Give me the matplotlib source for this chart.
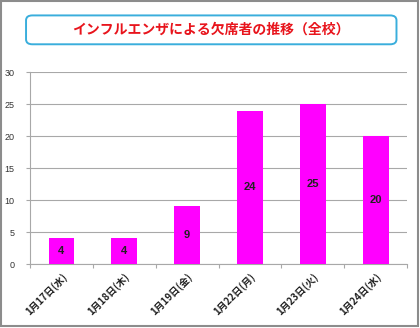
# -*- coding: utf-8 -*-
import numpy as np
import matplotlib
matplotlib.use('Agg')
import matplotlib.pyplot as plt
from matplotlib.patches import FancyBboxPatch, Rectangle

plt.rcParams['font.family'] = ['Noto Sans CJK JP', 'DejaVu Sans']

# absentees per day
days = ['1月17日(水)', '1月18日(木)', '1月19日(金)',
        '1月22日(月)', '1月23日(火)', '1月24日(水)']
absent = [4, 4, 9, 24, 25, 20]
yticks = [0, 5, 10, 15, 20, 25, 30]

title = 'インフルエンザによる欠席者の推移（全校）'

barcolor = '#FF00FF'
gridcolor = '#A8A8A8'

fig = plt.figure(figsize=(4.2, 3.28), dpi=100)

# outer frame
fig.patches.append(Rectangle((0.002, 0.006), 0.993, 0.99, transform=fig.transFigure,
                             fill=False, edgecolor='#8C8C8C', linewidth=1.5))

# title box
fig.patches.append(FancyBboxPatch((0.062, 0.865), 0.882, 0.088,
                                  boxstyle='round,pad=0,rounding_size=0.015',
                                  transform=fig.transFigure, facecolor='white',
                                  edgecolor='#3AAEDC', linewidth=1.4))
fig.text(0.503, 0.909, title, ha='center', va='center', color='#E8141C',
         fontsize=10, fontweight='bold')

ax = fig.add_axes([0.0714, 0.195, 0.898, 0.585])
x = np.arange(len(days))
bars = ax.bar(x, absent, width=0.41, color=barcolor, zorder=3)
for b, v in zip(bars, absent):
    ax.text(b.get_x() + b.get_width() / 2, v / 2, str(v), ha='center', va='center',
            fontsize=8, fontweight='bold', color='#222222',
            family=['Liberation Sans', 'DejaVu Sans'], zorder=4)

ax.set_xlim(-0.5, len(days) - 0.5)
ax.set_ylim(0, 30)
ax.set_yticks(yticks)
ax.yaxis.grid(True, color=gridcolor, linewidth=0.8, zorder=0)
ax.tick_params(axis='y', length=3, color=gridcolor, labelsize=6.5, labelcolor='#333333', pad=8)
for lab in ax.get_yticklabels():
    lab.set_family(['Liberation Sans', 'DejaVu Sans'])

# category boundaries as tick marks
ax.set_xticks(np.arange(-0.5, len(days), 1.0))
ax.set_xticklabels([])
ax.tick_params(axis='x', length=3, color=gridcolor)
ax.set_xticks(x, minor=True)
ax.set_xticklabels(days, minor=True, rotation=45, ha='right', rotation_mode='anchor',
                   fontsize=7, fontweight='bold', color='#222222')
ax.tick_params(axis='x', which='minor', length=0, pad=5)

for s in ['top', 'right']:
    ax.spines[s].set_visible(False)
for s in ['left', 'bottom']:
    ax.spines[s].set_color(gridcolor)
    ax.spines[s].set_linewidth(0.8)

fig.savefig('out.png', dpi=100)
